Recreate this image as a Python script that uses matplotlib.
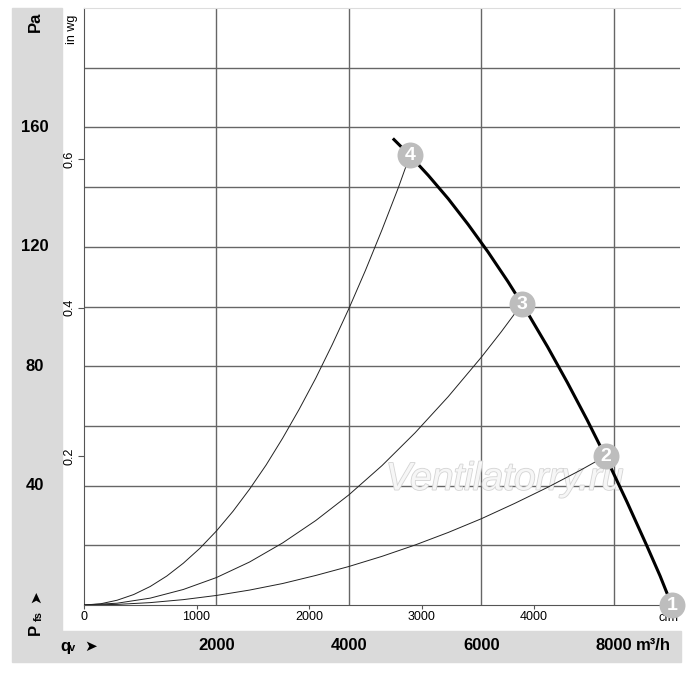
import matplotlib
matplotlib.use('Agg')
import matplotlib.pyplot as plt
import matplotlib.patheffects as pe
from matplotlib.patches import Rectangle
from matplotlib.transforms import blended_transform_factory

plt.rcParams['font.family'] = ['Liberation Sans', 'DejaVu Sans']

# fan curve, flow in m3/h, pressure in Pa
fan_q = [4664, 4921, 5200, 5500, 5800, 6100, 6400, 6700, 7000, 7300,
         7600, 7900, 8200, 8500, 8700, 8875]
fan_p = [156.3, 150.6, 143.9, 136.1, 127.5, 118.3, 108.4, 97.8, 86.5, 74.5,
         61.9, 48.6, 34.5, 19.8, 9.7, 0]

# system curves (thin lines), read at regular flow steps
sys4_q = [0, 250, 500, 750, 1000, 1250, 1500, 1750, 2000, 2250, 2500, 2750,
          3000, 3250, 3500, 3750, 4000, 4250, 4500, 4750, 4921]
sys4_p = [0, 0.4, 1.6, 3.5, 6.2, 9.7, 14.0, 19.0, 24.8, 31.4, 38.8, 46.9,
          55.9, 65.6, 76.0, 87.3, 99.3, 112.1, 125.7, 140.0, 150.6]
sys3_q = [0, 500, 1000, 1500, 2000, 2500, 3000, 3500, 4000, 4500, 5000,
          5500, 6000, 6300, 6611]
sys3_p = [0, 0.6, 2.3, 5.2, 9.2, 14.4, 20.8, 28.3, 36.9, 46.7, 57.7,
          69.8, 83.0, 91.5, 100.8]
sys2_q = [0, 500, 1000, 1500, 2000, 2500, 3000, 3500, 4000, 4500, 5000,
          5500, 6000, 6500, 7000, 7500, 7879]
sys2_p = [0, 0.2, 0.8, 1.8, 3.2, 5.0, 7.2, 9.9, 12.9, 16.3, 20.1,
          24.3, 28.9, 34.0, 39.4, 45.2, 49.9]

# operating points
op_labels = ['1', '2', '3', '4']
op_q = [8875, 7879, 6611, 4921]
op_p = [0, 49.9, 100.8, 150.6]

pa_ticks = [40, 80, 120, 160]
m3h_ticks = [2000, 4000, 6000, 8000]
inwg_ticks = [0.2, 0.4, 0.6]
cfm_ticks = [0, 1000, 2000, 3000, 4000]

W, H = 700, 676
fig = plt.figure(figsize=(W / 100, H / 100), dpi=100)
ax = fig.add_axes([84 / W, 1 - 605 / H, 596 / W, 597 / H])

band = '#dadada'
fig.patches.append(Rectangle((12 / W, 1 - 631 / H), 50 / W, 623 / H,
                             transform=fig.transFigure, color=band, zorder=-1))
fig.patches.append(Rectangle((12 / W, 1 - 662 / H), 669 / W, 31 / H,
                             transform=fig.transFigure, color=band, zorder=-1))

ax.set_xlim(0, 9000)
ax.set_ylim(0, 200)
ax.set_xticks(m3h_ticks)
ax.set_yticks(range(20, 200, 20))
ax.tick_params(length=0, labelbottom=False, labelleft=False)
ax.grid(True, color='#666666', lw=1)
ax.set_axisbelow(True)
for s in ['left', 'bottom']:
    ax.spines[s].set_color('#555555')
ax.spines['top'].set_color('#dddddd')
ax.spines['right'].set_visible(False)

# watermark
ax.text(6350, 42, 'Ventilatorry.ru', fontsize=28, style='italic', color='#f6f6f6',
        ha='center', va='center', zorder=1,
        path_effects=[pe.withStroke(linewidth=1.2, foreground='#d4d4d4')])

for q, p in [(sys4_q, sys4_p), (sys3_q, sys3_p), (sys2_q, sys2_p)]:
    ax.plot(q, p, color='#222222', lw=0.7, zorder=3)
ax.plot(fan_q, fan_p, color='black', lw=2.2, zorder=4, solid_capstyle='butt')

ax.plot(op_q, op_p, 'o', ms=18.7, color='#bdbdbd', mec='none', zorder=5, clip_on=False)
for lab, q, p in zip(op_labels, op_q, op_p):
    ax.text(q, p, lab, color='white', fontsize=14, fontweight='bold',
            ha='center', va='center', zorder=6, clip_on=False)

# secondary scales
secy = ax.secondary_yaxis('left', functions=(lambda p: p / 249.09, lambda w: w * 249.09))
secy.set_yticks(inwg_ticks)
secy.set_yticklabels([f'{t:.1f}' for t in inwg_ticks], rotation=90, va='center', fontsize=9)
secy.tick_params(length=4, width=0.8, color='#555555', pad=2)
secy.spines['left'].set_visible(False)

secx = ax.secondary_xaxis('bottom', functions=(lambda q: q / 1.699, lambda c: c * 1.699))
secx.set_xticks(cfm_ticks)
secx.set_xticklabels([str(t) for t in cfm_ticks], fontsize=9)
secx.tick_params(length=3, width=0.8, color='#555555', pad=1)
secx.spines['bottom'].set_visible(False)
ax.text(8820, -2.5, 'cfm', fontsize=9, ha='center', va='top', zorder=2)

fig.text(72 / W, 1 - 29 / H, 'in wg', rotation=90, fontsize=9, ha='center', va='center')

# Pa labels in the grey band
ty = blended_transform_factory(fig.transFigure, ax.transData)
for t in pa_ticks:
    ax.text(35 / W, t, str(t), transform=ty, fontsize=12, fontweight='bold',
            ha='center', va='center')
fig.text(35 / W, 1 - 22 / H, 'Pa', rotation=90, fontsize=12, fontweight='bold',
         ha='center', va='center')
fig.text(35 / W, 1 - 629 / H, 'P', rotation=90, fontsize=12, fontweight='bold',
         ha='center', va='center')
fig.text(39 / W, 1 - 616 / H, 'fs', rotation=90, fontsize=8, fontweight='bold',
         ha='center', va='center')
fig.text(36 / W, 1 - 597 / H, '➤', rotation=90, fontsize=11, ha='center', va='center',
         family=['DejaVu Sans'])

# m3/h labels in the bottom band
tx = blended_transform_factory(ax.transData, fig.transFigure)
for t in m3h_ticks:
    ax.text(t, 1 - 646 / H, str(t), transform=tx, fontsize=12, fontweight='bold',
            ha='center', va='center')
ax.annotate('m³/h', xy=(m3h_ticks[-1], 1 - 646 / H), xycoords=tx,
            xytext=(16, 0), textcoords='offset points', fontsize=12, fontweight='bold',
            ha='left', va='center')
fig.text(65 / W, 1 - 646 / H, 'q', fontsize=12, fontweight='bold', ha='center', va='center')
fig.text(72 / W, 1 - 648 / H, 'v', fontsize=8, fontweight='bold', ha='center', va='center')
fig.text(91 / W, 1 - 646 / H, '➤', fontsize=11, ha='center', va='center',
         family=['DejaVu Sans'])

fig.savefig('out.png', dpi=100)
